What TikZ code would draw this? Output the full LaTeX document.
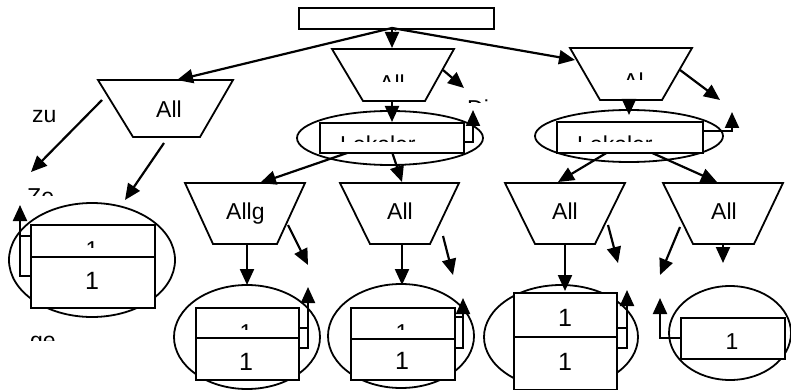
\documentclass[tikz,border=0pt]{standalone}
\usepackage{fontspec}
\setmainfont{Liberation Sans}
\usetikzlibrary{arrows.meta,shapes.geometric}
\tikzset{
  shapeline/.style={line width=1.8pt, line join=miter},
  ell/.style={shapeline, draw, ellipse, inner sep=0pt},
  trap/.style={shapeline, draw, fill=white},
  boxnode/.style={shapeline, draw, fill=white, inner sep=0pt, anchor=north west},
  conn/.style={line width=2.2pt, line join=miter, -{Triangle[length=16pt,width=14pt]}},
  stub/.style={line width=2.2pt},
  lbl/.style={inner sep=0pt, font=\fontsize{23}{27}\selectfont},
  num/.style={inner sep=0pt, font=\fontsize{25}{29}\selectfont},
}
% name, anchor, x, baseline, text, clip top, clip bottom
\newcommand\cutlabel[7]{%
  \begin{scope}
    \clip (#3-60,#6) rectangle (#3+110,#7);
    \node[lbl,anchor=#2] (#1) at (#3,#4) {#5};
  \end{scope}}
\begin{document}
\begin{tikzpicture}[x=1pt,y=-1pt]
\useasboundingbox (0,0) rectangle (791,390);

% ---- ellipses
\node[ell, minimum width=186pt, minimum height=54pt]  (e1) at (390,138) {};
\node[ell, minimum width=188pt, minimum height=52pt]  (e2) at (629,136) {};
\node[ell, minimum width=166pt, minimum height=114pt] (e3) at (92,260) {};
\node[ell, minimum width=146pt, minimum height=104pt] (e4) at (247,337) {};
\node[ell, minimum width=146pt, minimum height=104pt] (e5) at (401,336) {};
\node[ell, minimum width=154pt, minimum height=104pt] (e6) at (561,337) {};
\node[ell, minimum width=122pt, minimum height=94pt]  (e7) at (730,333) {};

% ---- trapezoids
\draw[trap] (98,80)  -- (233,80)  -- (200,137) -- (133,137) -- cycle;
\draw[trap] (332,49) -- (454,49)  -- (425,101) -- (363,101) -- cycle;
\draw[trap] (570,48) -- (692,48)  -- (662,100) -- (600,100) -- cycle;
\draw[trap] (185,183) -- (305,183) -- (277,244) -- (213,244) -- cycle;
\draw[trap] (340,183) -- (459,183) -- (430,244) -- (370,244) -- cycle;
\draw[trap] (505,183) -- (625,183) -- (595,244) -- (535,244) -- cycle;
\draw[trap] (663,183) -- (783,183) -- (754,244) -- (693,244) -- cycle;

% ---- title box
\node[boxnode, minimum width=195pt, minimum height=21pt] (r0) at (298,7) {};

% ---- connector end points
\coordinate (r0out) at (392,28);
\coordinate (t0in)  at (177,80);
\coordinate (t1in)  at (392,48);
\coordinate (t2in)  at (575,60);
\coordinate (t1out) at (443,70);   \coordinate (t1side) at (464,88);
\coordinate (t1bot) at (392,101);  \coordinate (r1top)  at (392,122);
\coordinate (r1ret) at (463,142);  \coordinate (r1up)   at (473,110);
\coordinate (r1bl)  at (350,152);  \coordinate (t3in)   at (260,183);
\coordinate (r1bc)  at (392,152);  \coordinate (t4in)   at (402,182);
\coordinate (t2out) at (680,70);   \coordinate (t2side) at (720,100);
\coordinate (t2bot) at (629,100);  \coordinate (r2top)  at (629,115);
\coordinate (r2ret) at (702,131);  \coordinate (r2up)   at (732,112);
\coordinate (r2bl)  at (608,152);  \coordinate (t5in)   at (558,182);
\coordinate (r2br)  at (650,152);  \coordinate (t6in)   at (717,182);
\coordinate (t0out) at (102,100);  \coordinate (zuend)  at (31,172);
\coordinate (t0bot) at (164,143);  \coordinate (e3in)   at (125,200);
\coordinate (r3ret) at (30,276);   \coordinate (r3up)   at (20,205);
\coordinate (r3stub) at (30,236);  \coordinate (r3stubend) at (20,236);
\coordinate (t3bot) at (247,244);  \coordinate (e4in)   at (247,285);
\coordinate (t3out) at (288,225);  \coordinate (t3side) at (308,265);
\coordinate (r4ret) at (298,348);  \coordinate (r4up)   at (308,287);
\coordinate (r4stub) at (298,328); \coordinate (r4stubend) at (308,328);
\coordinate (t4bot) at (402,244);  \coordinate (e5in)   at (402,285);
\coordinate (t4out) at (443,236);  \coordinate (t4side) at (453,275);
\coordinate (r5ret) at (454,348);  \coordinate (r5up)   at (463,298);
\coordinate (r5stub) at (454,317); \coordinate (r5stubend) at (463,317);
\coordinate (t5bot) at (565,244);  \coordinate (e6in)   at (565,291);
\coordinate (t5out) at (608,225);  \coordinate (t5side) at (618,263);
\coordinate (r6ret) at (616,348);  \coordinate (r6up)   at (627,290);
\coordinate (r6stub) at (616,328); \coordinate (r6stubend) at (627,328);
\coordinate (t6bot) at (723,244);  \coordinate (e7in)   at (723,263);
\coordinate (t6out) at (680,227);  \coordinate (t6side) at (660,275);
\coordinate (r7ret) at (680,338);  \coordinate (r7up)   at (660,298);

% ---- connectors
\draw[stub] (r0.south) -- (r0out);
\draw[conn] (r0out) -- (t0in);
\draw[conn] (r0out) -- (t1in);
\draw[conn] (r0out) -- (t2in);
\draw[conn] (t1out) -- (t1side);
\draw[conn] (t1bot) -- (r1top);
\draw[conn] (r1ret) -| (r1up);
\draw[conn] (r1bl) -- (t3in);
\draw[conn] (r1bc) -- (t4in);
\draw[conn] (t2out) -- (t2side);
\draw[conn] (t2bot) -- (r2top);
\draw[conn] (r2ret) -| (r2up);
\draw[conn] (r2bl) -- (t5in);
\draw[conn] (r2br) -- (t6in);
\draw[conn] (t0out) -- (zuend);
\draw[conn] (t0bot) -- (e3in);
\draw[conn] (r3ret) -| (r3up);
\draw[stub] (r3stub) -- (r3stubend);
\draw[conn] (t3bot) -- (e4in);
\draw[conn] (t3out) -- (t3side);
\draw[conn] (r4ret) -| (r4up);
\draw[stub] (r4stub) -- (r4stubend);
\draw[conn] (t4bot) -- (e5in);
\draw[conn] (t4out) -- (t4side);
\draw[conn] (r5ret) -| (r5up);
\draw[stub] (r5stub) -- (r5stubend);
\draw[conn] (t5bot) -- (e6in);
\draw[conn] (t5out) -- (t5side);
\draw[conn] (r6ret) -| (r6up);
\draw[stub] (r6stub) -- (r6stubend);
\draw[conn] (t6bot) -- (e7in);
\draw[conn] (t6out) -- (t6side);
\draw[conn] (r7ret) -| (r7up);

% ---- boxes
\node[boxnode, minimum width=144pt, minimum height=30pt] (r1)  at (319,122) {};
\node[boxnode, minimum width=146pt, minimum height=31pt] (r2)  at (556,121) {};
\node[boxnode, minimum width=124pt, minimum height=32pt] (r3a) at (30,224) {};
\node[boxnode, minimum width=124pt, minimum height=51pt] (r3b) at (30,256) {};
\node[boxnode, minimum width=103pt, minimum height=30pt] (r4a) at (195,307) {};
\node[boxnode, minimum width=103pt, minimum height=42pt] (r4b) at (195,337) {};
\node[boxnode, minimum width=104pt, minimum height=31pt] (r5a) at (350,307) {};
\node[boxnode, minimum width=104pt, minimum height=41pt] (r5b) at (350,338) {};
\node[boxnode, minimum width=103pt, minimum height=44pt] (r6a) at (513,292) {};
\node[boxnode, minimum width=103pt, minimum height=53pt] (r6b) at (513,336) {};
\node[boxnode, minimum width=104pt, minimum height=41pt] (r7)  at (680,317) {};

% ---- labels
\node[lbl, anchor=base west] (zu)   at (32,123)  {zu};
\node[lbl, anchor=base west] (t0l)  at (156,118) {All};
\node[lbl, anchor=base west] (t3l)  at (226,219) {Allg};
\node[lbl, anchor=base west] (t4l)  at (387,219) {All};
\node[lbl, anchor=base west] (t5l)  at (552,219) {All};
\node[lbl, anchor=base west] (t6l)  at (711,219) {All};
\node[num, anchor=base] (n3b) at (92,289)  {1};
\node[num, anchor=base] (n4b) at (246,370) {1};
\node[num, anchor=base] (n5b) at (402,369) {1};
\node[num, anchor=base] (n6a) at (565,326) {1};
\node[num, anchor=base] (n6b) at (565,370) {1};
\node[lbl, anchor=base] (n7)  at (732,349) {1};

% ---- clipped labels
\cutlabel{t1l}{base west}{379}{92}{All}{68}{82}
\cutlabel{t2l}{base west}{623}{90}{Al}{66}{80}
\cutlabel{lok1}{base west}{340}{153}{Lokaler}{130}{141.5}
\cutlabel{lok2}{base west}{577}{153}{Lokaler}{130}{141.5}
\cutlabel{di}{base west}{467}{117}{Di}{95}{103}
\cutlabel{ze}{base west}{27}{204}{Ze}{180}{195}
\cutlabel{ge}{base west}{30}{348}{ge}{330}{340}
\cutlabel{n3a}{base}{92}{257}{1}{235}{247}
\cutlabel{n4a}{base}{246}{340}{1}{318}{329}
\cutlabel{n5a}{base}{402}{340}{1}{318}{329}
\end{tikzpicture}
\end{document}
